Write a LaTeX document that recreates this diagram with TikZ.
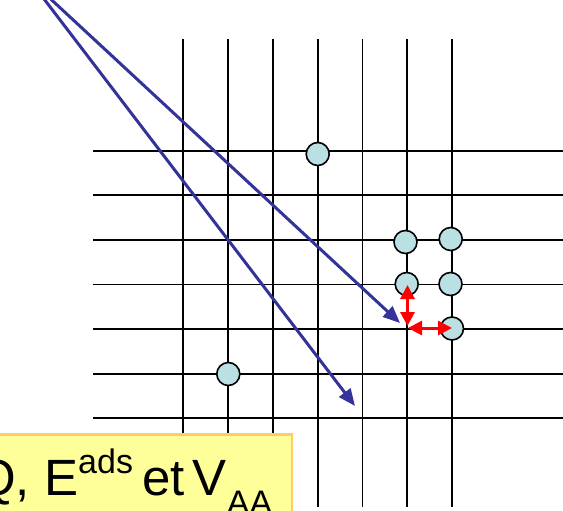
\documentclass[tikz,border=0pt]{standalone}
\usepackage{fontspec}
\setmainfont{Liberation Sans}
\usetikzlibrary{arrows.meta}
\definecolor{adatom}{RGB}{187,224,227}
\definecolor{arrowblue}{RGB}{51,51,153}
\definecolor{boxfill}{RGB}{255,255,153}
\definecolor{boxedge}{RGB}{255,204,102}
\begin{document}
\begin{tikzpicture}[x=1pt,y=-1pt,
  gridline/.style={line width=1.8pt,black},
  atom/.style={circle,draw=black,line width=1.6pt,fill=adatom,minimum size=23pt,inner sep=0pt},
  bluearrow/.style={arrowblue,line width=3pt,-{Triangle[length=17pt,width=14pt]}},
  redarrow/.style={red,line width=3pt,{Triangle[length=14pt,width=14pt]}-{Triangle[length=14pt,width=14pt]}},
  labelbox/.style={draw=boxedge,line width=2.5pt,fill=boxfill,inner sep=0pt},
  labeltext/.style={inner sep=0pt,font=\fontsize{51pt}{51pt}\selectfont}]
\useasboundingbox (0,0) rectangle (563,511);
\clip (0,0) rectangle (563,511);
% grid
\foreach \x in {183.3,228.1,272.9,317.7,362.5,407.3,452.1}
  \draw[gridline] (\x,39) -- (\x,507);
\foreach \y in {150.7,195.3,239.9,284.5,329.1,373.7,418.3}
  \draw[gridline] (93,\y) -- (563,\y);
% adatoms
\node[atom] (a1) at (317.7,154) {};
\node[atom] (a2) at (405.5,242) {};
\node[atom] (a3) at (450.7,239) {};
\node[atom] (a4) at (406.7,284) {};
\node[atom] (a5) at (450.5,284) {};
\node[atom] (a6) at (452,328.5) {};
\node[atom] (a7) at (228.3,374) {};
% red hop arrows
\coordinate (vtop) at (407.5,285);
\coordinate (vbot) at (407.5,326);
\coordinate (hleft) at (408,328);
\coordinate (hright) at (452,328);
\draw[redarrow] (vtop) -- (vbot);
\draw[redarrow] (hleft) -- (hright);
% blue arrows
\coordinate (src) at (28,-22);
\coordinate (t1) at (355,406);
\coordinate (t2) at (400,323);
\draw[bluearrow] (src) -- (t1);
\draw[bluearrow] (src) -- (t2);
% label
\node[labelbox,minimum width=320pt,minimum height=100pt,anchor=north east] (box) at (293,433) {};
\node[labeltext,anchor=base west] (lbl) at (-24,495)
  {Q, E\raisebox{22pt}{\fontsize{34pt}{34pt}\selectfont ads}\hspace{-5pt} et\hspace{-6pt} V\raisebox{-19pt}{\fontsize{34pt}{34pt}\selectfont AA}};
\end{tikzpicture}
\end{document}
